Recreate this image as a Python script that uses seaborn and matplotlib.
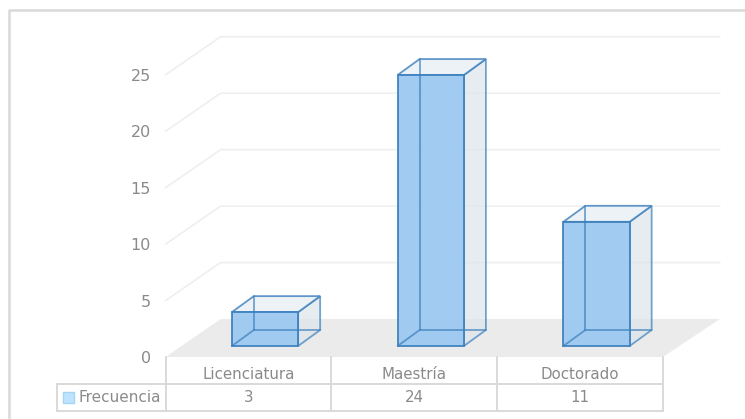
import seaborn as sns
import matplotlib.pyplot as plt
from matplotlib.patches import Polygon, Rectangle
from matplotlib.transforms import Affine2D

categories = ['Licenciatura', 'Maestría', 'Doctorado']
values = [3, 24, 11]
series_name = 'Frecuencia'
y_ticks = [0, 5, 10, 15, 20, 25]

W, H = 745, 419
GRAY = '#8a8a8a'
LINE = '#d9d9d9'
BLUE = '#3a7fbd'

# one category = 165.75 px, one unit = 11.29 px, bar front plane sits inside the floor
PX_X = 165.75
PX_Y = 11.29
FRONT = (-16.5 / PX_X, -11 / PX_Y)
FLOOR = (55 / PX_X, 38 / PX_Y)
BAR = (22 / PX_X, 16 / PX_Y)
BACK_EXTRA = 2 / PX_X

sns.set_theme(style='white')
plt.rcParams['font.family'] = ['DejaVu Sans']

fig = plt.figure(figsize=(W / 100, H / 100), dpi=100)
ax = fig.add_axes([0, 0, 1, 1])
ax.set_axis_off()

sns.barplot(x=categories, y=values, ax=ax, width=0.4, color='#9cc9f1', saturation=1,
            alpha=0.95, edgecolor=BLUE, linewidth=1.3, zorder=6)

ax.set_xlim(-265 / PX_X, (W - 265) / PX_X)
ax.set_ylim(-(H - 346) / PX_Y, 346 / PX_Y)

trans = Affine2D().scale(1, -1).translate(0, H)  # image pixels, y down

# floor and walls
left = -0.5 + FRONT[0]
right = len(categories) - 0.5 + FRONT[0]
base = FRONT[1]
back_right = right + FLOOR[0] + BACK_EXTRA
ax.add_patch(Polygon([(left, base), (right, base), (back_right, base + FLOOR[1]),
                      (left + FLOOR[0], base + FLOOR[1])],
                     facecolor='#ebebeb', edgecolor='none', zorder=1))
for t in y_ticks:
    y = base + t
    back = y + FLOOR[1]
    if t > 0:
        ax.plot([left, left + FLOOR[0], back_right], [y, back, back],
                color='#efefef', lw=1.2, zorder=1)
    ax.text(left - 14.5 / PX_X, y - 1.5 / PX_Y, str(t), ha='right', va='center',
            fontsize=11.5, color=GRAY)

# bar sides, drawn from the bars seaborn made
for bar in ax.patches:
    if not isinstance(bar, Rectangle):
        continue
    x0, x1 = bar.get_x(), bar.get_x() + bar.get_width()
    h = bar.get_height()
    dx, dy = BAR
    side = [(x1, 0), (x1 + dx, dy), (x1 + dx, h + dy), (x1, h)]
    top = [(x0, h), (x0 + dx, h + dy), (x1 + dx, h + dy), (x1, h)]
    ax.add_patch(Polygon(side, facecolor='#dde5eb', alpha=0.7, edgecolor=BLUE, lw=1.3, zorder=4))
    ax.add_patch(Polygon(top, facecolor='#e9eff4', alpha=0.8, edgecolor=BLUE, lw=1.3, zorder=4))
    ax.plot([x0, x0 + dx, x1 + dx], [0, dy, dy], color=BLUE, lw=1.3, alpha=0.7, zorder=7)
    ax.plot([x0 + dx, x0 + dx], [dy, h + dy], color=BLUE, lw=1.3, alpha=0.7, zorder=7)

# data table below the plot
cols = [166, 331, 497, 663]
for c in cols:
    ax.plot([c, c], [357, 411], color=LINE, lw=1.4, transform=trans)
ax.plot([57, 663], [384, 384], color=LINE, lw=1.4, transform=trans)
ax.plot([57, 663], [411, 411], color=LINE, lw=1.4, transform=trans)
ax.plot([57, 57], [384, 411], color=LINE, lw=1.4, transform=trans)
for i, (name, v) in enumerate(zip(categories, values)):
    mid = (cols[i] + cols[i + 1]) / 2
    ax.text(mid, 374.5, name, ha='center', va='center', fontsize=10.8, color=GRAY, transform=trans)
    ax.text(mid, 397.5, str(v), ha='center', va='center', fontsize=10.8, color=GRAY, transform=trans)
ax.text(78, 397.5, series_name, ha='left', va='center', fontsize=11, color=GRAY, transform=trans)
ax.add_patch(Rectangle((63, 392), 11, 11, facecolor='#bde3ff', edgecolor='#a6d4f5', lw=1, transform=trans))

# chart frame, only top and left show in the crop
ax.plot([9, 9, W], [H, 10, 10], color=LINE, lw=1.8, transform=trans)

fig.savefig('out.png', dpi=100)
plt.close()
